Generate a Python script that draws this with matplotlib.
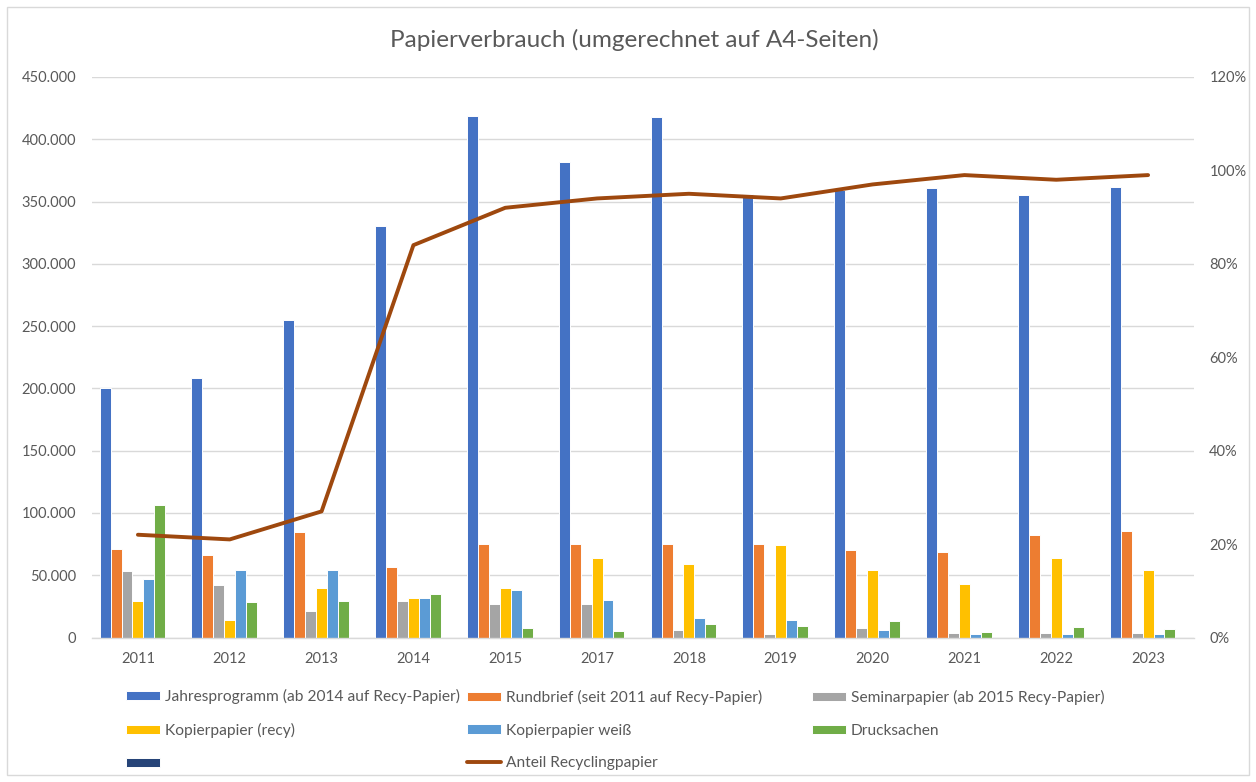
import numpy as np
import matplotlib
matplotlib.use("Agg")
import matplotlib.pyplot as plt
from matplotlib.patches import Rectangle
from matplotlib.ticker import FuncFormatter, MultipleLocator

plt.rcParams['font.family'] = ['Lato', 'DejaVu Sans']

years = ['2011', '2012', '2013', '2014', '2015', '2017', '2018', '2019', '2020', '2021', '2022', '2023']
jahresprogramm = [200000, 208000, 255000, 330000, 419000, 382000, 418000, 356000, 359000, 361000, 355000, 362000]
rundbrief = [71000, 66500, 84500, 57000, 75000, 75000, 75000, 75000, 70500, 69000, 82500, 85500]
seminarpapier = [53000, 42000, 21500, 29500, 26500, 27000, 6000, 3000, 7500, 3700, 3700, 3700]
kopier_recy = [29500, 14000, 39500, 32000, 39500, 64000, 59000, 74000, 54500, 43000, 64000, 54000]
kopier_weiss = [47000, 54500, 54500, 32000, 38500, 30000, 16000, 14000, 6000, 3000, 3000, 3000]
drucksachen = [106000, 28500, 29500, 35000, 7500, 5000, 11000, 9500, 13000, 4300, 8800, 6700]
leer = [np.nan] * 12
anteil_recycling = [0.22, 0.21, 0.27, 0.84, 0.92, 0.94, 0.95, 0.94, 0.97, 0.99, 0.98, 0.99]

labels = ['Jahresprogramm (ab 2014 auf Recy-Papier)', 'Rundbrief (seit 2011 auf Recy-Papier)',
          'Seminarpapier (ab 2015 Recy-Papier)', 'Kopierpapier (recy)', 'Kopierpapier weiß',
          'Drucksachen', '']
line_label = 'Anteil Recyclingpapier'
colors = ['#4472C4', '#ED7D31', '#A5A5A5', '#FFC000', '#5B9BD5', '#70AD47', '#264478']
line_color = '#9E480E'
text_color = '#595959'
grid_color = '#D9D9D9'

W, H = 1256, 782
fig = plt.figure(figsize=(W / 100, H / 100), dpi=100)
fig.patches.append(Rectangle((7 / W, 7 / H), 1242 / W, 768 / H, transform=fig.transFigure,
                             fill=False, edgecolor=grid_color, linewidth=1.0))

left, right, top, bottom = 92, 1194, 77, 637.5
ax = fig.add_axes([left / W, 1 - bottom / H, (right - left) / W, (bottom - top) / H])

series = [jahresprogramm, rundbrief, seminarpapier, kopier_recy, kopier_weiss, drucksachen, leer]
x = np.arange(len(years))
n = len(series)
bw = 1 / 8.4
containers = []
for i, (vals, c, lab) in enumerate(zip(series, colors, labels)):
    off = (i - (n - 1) / 2) * bw
    b = ax.bar(x + off, vals, width=bw, color=c, edgecolor='white', linewidth=0.7, label=lab, zorder=2)
    containers.append(b)

ax.set_xlim(-0.5, len(years) - 0.5)
ax.set_ylim(0, 450000)
ax.yaxis.set_major_locator(MultipleLocator(50000))
ax.yaxis.set_major_formatter(FuncFormatter(lambda v, p: f"{int(v):,}".replace(',', '.')))
ax.set_xticks(x)
ax.set_xticklabels(years)
ax.grid(axis='y', color=grid_color, linewidth=1.0)
ax.set_axisbelow(True)
for s in ['top', 'right', 'left']:
    ax.spines[s].set_visible(False)
ax.spines['bottom'].set_color(grid_color)
ax.spines['bottom'].set_linewidth(1.0)
ax.tick_params(axis='both', length=0, labelsize=10.5, labelcolor=text_color)
ax.tick_params(axis='y', pad=11.5)
ax.tick_params(axis='x', pad=10.5)

ax2 = ax.twinx()
ln, = ax2.plot(x, anteil_recycling, color=line_color, linewidth=2.8, solid_joinstyle='round',
               solid_capstyle='round', label=line_label, zorder=3)
ax2.set_ylim(0, 1.2)
ax2.yaxis.set_major_locator(MultipleLocator(0.2))
ax2.yaxis.set_major_formatter(FuncFormatter(lambda v, p: f"{int(round(v * 100))}%"))
for s in ax2.spines.values():
    s.set_visible(False)
ax2.tick_params(axis='y', length=0, labelsize=10.5, labelcolor=text_color, pad=11)

fig.text(634 / W, 1 - 40 / H, 'Papierverbrauch (umgerechnet auf A4-Seiten)', ha='center', va='center',
         fontsize=17.5, color=text_color)

leg_kw = dict(frameon=False, fontsize=11.2, labelcolor=text_color, handlelength=2.19, handleheight=0.52,
              handletextpad=0.32, labelspacing=1.2, borderpad=0, borderaxespad=0, loc='center left')
cols = [([containers[0], containers[3], containers[6]], [labels[0], labels[3], labels[6]], 126, 730),
        ([containers[1], containers[4], ln], [labels[1], labels[4], line_label], 467, 730),
        ([containers[2], containers[5]], [labels[2], labels[5]], 812, 714)]
for hs, ls, xp, yp in cols:
    lg = fig.legend(hs, ls, bbox_to_anchor=(xp / W, 1 - yp / H), **leg_kw)

fig.savefig('out.png', dpi=100)
